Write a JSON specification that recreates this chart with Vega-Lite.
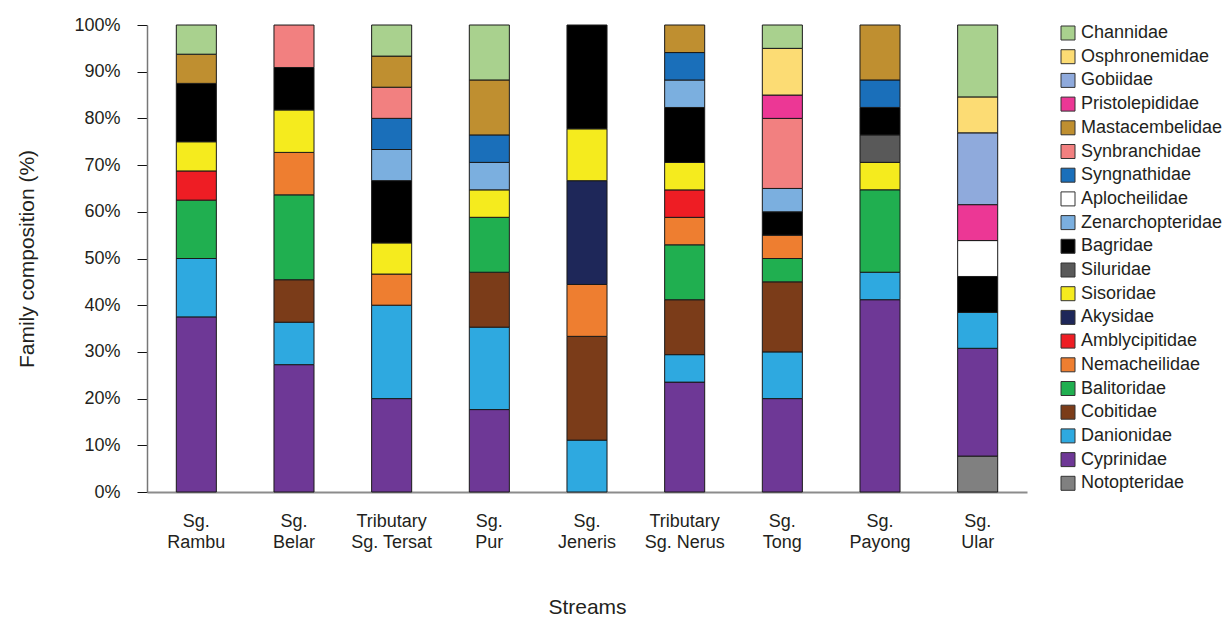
{
  "$schema": "https://vega.github.io/schema/vega-lite/v6.json",
  "width": 880,
  "height": 467,
  "autosize": "none",
  "padding": {"left": 147, "top": 25, "right": 200, "bottom": 130},
  "background": "white",
  "config": {
    "font": "Liberation Sans",
    "view": {"stroke": null},
    "axis": {"labelColor": "#231f20", "titleColor": "#231f20", "titleFontWeight": "normal"}
  },
  "datasets": {
    "families": [
      {"family": "Notopteridae", "rank": 1},
      {"family": "Cyprinidae", "rank": 2},
      {"family": "Danionidae", "rank": 3},
      {"family": "Cobitidae", "rank": 4},
      {"family": "Balitoridae", "rank": 5},
      {"family": "Nemacheilidae", "rank": 6},
      {"family": "Amblycipitidae", "rank": 7},
      {"family": "Akysidae", "rank": 8},
      {"family": "Sisoridae", "rank": 9},
      {"family": "Siluridae", "rank": 10},
      {"family": "Bagridae", "rank": 11},
      {"family": "Zenarchopteridae", "rank": 12},
      {"family": "Aplocheilidae", "rank": 13},
      {"family": "Syngnathidae", "rank": 14},
      {"family": "Synbranchidae", "rank": 15},
      {"family": "Mastacembelidae", "rank": 16},
      {"family": "Pristolepididae", "rank": 17},
      {"family": "Gobiidae", "rank": 18},
      {"family": "Osphronemidae", "rank": 19},
      {"family": "Channidae", "rank": 20}
    ],
    "composition": [
      {"stream": "Sg. Rambu", "family": "Cyprinidae", "pct": 37.5},
      {"stream": "Sg. Rambu", "family": "Danionidae", "pct": 12.5},
      {"stream": "Sg. Rambu", "family": "Balitoridae", "pct": 12.5},
      {"stream": "Sg. Rambu", "family": "Amblycipitidae", "pct": 6.25},
      {"stream": "Sg. Rambu", "family": "Sisoridae", "pct": 6.25},
      {"stream": "Sg. Rambu", "family": "Bagridae", "pct": 12.5},
      {"stream": "Sg. Rambu", "family": "Mastacembelidae", "pct": 6.25},
      {"stream": "Sg. Rambu", "family": "Channidae", "pct": 6.25},

      {"stream": "Sg. Belar", "family": "Cyprinidae", "pct": 27.27},
      {"stream": "Sg. Belar", "family": "Danionidae", "pct": 9.09},
      {"stream": "Sg. Belar", "family": "Cobitidae", "pct": 9.09},
      {"stream": "Sg. Belar", "family": "Balitoridae", "pct": 18.18},
      {"stream": "Sg. Belar", "family": "Nemacheilidae", "pct": 9.09},
      {"stream": "Sg. Belar", "family": "Sisoridae", "pct": 9.09},
      {"stream": "Sg. Belar", "family": "Bagridae", "pct": 9.09},
      {"stream": "Sg. Belar", "family": "Synbranchidae", "pct": 9.09},

      {"stream": "Tributary Sg. Tersat", "family": "Cyprinidae", "pct": 20},
      {"stream": "Tributary Sg. Tersat", "family": "Danionidae", "pct": 20},
      {"stream": "Tributary Sg. Tersat", "family": "Nemacheilidae", "pct": 6.67},
      {"stream": "Tributary Sg. Tersat", "family": "Sisoridae", "pct": 6.67},
      {"stream": "Tributary Sg. Tersat", "family": "Bagridae", "pct": 13.33},
      {"stream": "Tributary Sg. Tersat", "family": "Zenarchopteridae", "pct": 6.67},
      {"stream": "Tributary Sg. Tersat", "family": "Syngnathidae", "pct": 6.67},
      {"stream": "Tributary Sg. Tersat", "family": "Synbranchidae", "pct": 6.67},
      {"stream": "Tributary Sg. Tersat", "family": "Mastacembelidae", "pct": 6.66},
      {"stream": "Tributary Sg. Tersat", "family": "Channidae", "pct": 6.66},

      {"stream": "Sg. Pur", "family": "Cyprinidae", "pct": 17.65},
      {"stream": "Sg. Pur", "family": "Danionidae", "pct": 17.65},
      {"stream": "Sg. Pur", "family": "Cobitidae", "pct": 11.76},
      {"stream": "Sg. Pur", "family": "Balitoridae", "pct": 11.76},
      {"stream": "Sg. Pur", "family": "Sisoridae", "pct": 5.88},
      {"stream": "Sg. Pur", "family": "Zenarchopteridae", "pct": 5.88},
      {"stream": "Sg. Pur", "family": "Syngnathidae", "pct": 5.88},
      {"stream": "Sg. Pur", "family": "Mastacembelidae", "pct": 11.77},
      {"stream": "Sg. Pur", "family": "Channidae", "pct": 11.77},

      {"stream": "Sg. Jeneris", "family": "Danionidae", "pct": 11.11},
      {"stream": "Sg. Jeneris", "family": "Cobitidae", "pct": 22.22},
      {"stream": "Sg. Jeneris", "family": "Nemacheilidae", "pct": 11.11},
      {"stream": "Sg. Jeneris", "family": "Akysidae", "pct": 22.22},
      {"stream": "Sg. Jeneris", "family": "Sisoridae", "pct": 11.11},
      {"stream": "Sg. Jeneris", "family": "Bagridae", "pct": 22.23},

      {"stream": "Tributary Sg. Nerus", "family": "Cyprinidae", "pct": 23.53},
      {"stream": "Tributary Sg. Nerus", "family": "Danionidae", "pct": 5.88},
      {"stream": "Tributary Sg. Nerus", "family": "Cobitidae", "pct": 11.76},
      {"stream": "Tributary Sg. Nerus", "family": "Balitoridae", "pct": 11.76},
      {"stream": "Tributary Sg. Nerus", "family": "Nemacheilidae", "pct": 5.88},
      {"stream": "Tributary Sg. Nerus", "family": "Amblycipitidae", "pct": 5.88},
      {"stream": "Tributary Sg. Nerus", "family": "Sisoridae", "pct": 5.88},
      {"stream": "Tributary Sg. Nerus", "family": "Bagridae", "pct": 11.77},
      {"stream": "Tributary Sg. Nerus", "family": "Zenarchopteridae", "pct": 5.88},
      {"stream": "Tributary Sg. Nerus", "family": "Syngnathidae", "pct": 5.88},
      {"stream": "Tributary Sg. Nerus", "family": "Mastacembelidae", "pct": 5.9},

      {"stream": "Sg. Tong", "family": "Cyprinidae", "pct": 20},
      {"stream": "Sg. Tong", "family": "Danionidae", "pct": 10},
      {"stream": "Sg. Tong", "family": "Cobitidae", "pct": 15},
      {"stream": "Sg. Tong", "family": "Balitoridae", "pct": 5},
      {"stream": "Sg. Tong", "family": "Nemacheilidae", "pct": 5},
      {"stream": "Sg. Tong", "family": "Bagridae", "pct": 5},
      {"stream": "Sg. Tong", "family": "Zenarchopteridae", "pct": 5},
      {"stream": "Sg. Tong", "family": "Synbranchidae", "pct": 15},
      {"stream": "Sg. Tong", "family": "Pristolepididae", "pct": 5},
      {"stream": "Sg. Tong", "family": "Osphronemidae", "pct": 10},
      {"stream": "Sg. Tong", "family": "Channidae", "pct": 5},

      {"stream": "Sg. Payong", "family": "Cyprinidae", "pct": 41.18},
      {"stream": "Sg. Payong", "family": "Danionidae", "pct": 5.88},
      {"stream": "Sg. Payong", "family": "Balitoridae", "pct": 17.65},
      {"stream": "Sg. Payong", "family": "Sisoridae", "pct": 5.88},
      {"stream": "Sg. Payong", "family": "Siluridae", "pct": 5.88},
      {"stream": "Sg. Payong", "family": "Bagridae", "pct": 5.88},
      {"stream": "Sg. Payong", "family": "Syngnathidae", "pct": 5.88},
      {"stream": "Sg. Payong", "family": "Mastacembelidae", "pct": 11.77},

      {"stream": "Sg. Ular", "family": "Notopteridae", "pct": 7.69},
      {"stream": "Sg. Ular", "family": "Cyprinidae", "pct": 23.08},
      {"stream": "Sg. Ular", "family": "Danionidae", "pct": 7.69},
      {"stream": "Sg. Ular", "family": "Bagridae", "pct": 7.69},
      {"stream": "Sg. Ular", "family": "Aplocheilidae", "pct": 7.69},
      {"stream": "Sg. Ular", "family": "Pristolepididae", "pct": 7.69},
      {"stream": "Sg. Ular", "family": "Gobiidae", "pct": 15.38},
      {"stream": "Sg. Ular", "family": "Osphronemidae", "pct": 7.69},
      {"stream": "Sg. Ular", "family": "Channidae", "pct": 15.4}
    ]
  },
  "data": {"name": "composition"},
  "transform": [
    {"lookup": "family", "from": {"data": {"name": "families"}, "key": "family", "fields": ["rank"]}}
  ],
  "mark": {"type": "bar", "stroke": "#1a1a1a", "strokeWidth": 1},
  "encoding": {
    "x": {
      "field": "stream",
      "type": "nominal",
      "sort": null,
      "scale": {"paddingInner": 0.59, "paddingOuter": 0.3},
      "axis": {
        "title": "Streams",
        "titleFontSize": 21,
        "titlePadding": 45,
        "labelAngle": 0,
        "labelFontSize": 18,
        "labelLineHeight": 21,
        "labelPadding": 20,
        "labelExpr": "indexof(datum.value, 'Tributary') == 0 ? ['Tributary', substring(datum.value, 10)] : split(datum.value, ' ')",
        "ticks": false,
        "domainColor": "#8c8c8c",
        "domainWidth": 2
      }
    },
    "y": {
      "field": "pct",
      "type": "quantitative",
      "stack": "zero",
      "scale": {"domain": [0, 100], "nice": false},
      "axis": {
        "title": "Family composition (%)",
        "titleFontSize": 21,
        "titlePadding": 36,
        "values": [0, 10, 20, 30, 40, 50, 60, 70, 80, 90, 100],
        "labelExpr": "datum.value + '%'",
        "labelFontSize": 18,
        "labelPadding": 17,
        "tickSize": 10,
        "tickColor": "#111",
        "domainColor": "#777",
        "domainWidth": 1.5,
        "grid": false
      }
    },
    "order": {"field": "rank", "type": "quantitative", "sort": "ascending"},
    "color": {
      "field": "family",
      "type": "nominal",
      "scale": {
        "domain": ["Channidae", "Osphronemidae", "Gobiidae", "Pristolepididae", "Mastacembelidae", "Synbranchidae", "Syngnathidae", "Aplocheilidae", "Zenarchopteridae", "Bagridae", "Siluridae", "Sisoridae", "Akysidae", "Amblycipitidae", "Nemacheilidae", "Balitoridae", "Cobitidae", "Danionidae", "Cyprinidae", "Notopteridae"],
        "range": ["#a9d18e", "#fcdc74", "#8faadc", "#ec3795", "#bf8f30", "#f28080", "#1a6fba", "#ffffff", "#7bafdf", "#000000", "#595959", "#f5eb1e", "#1e2759", "#ee1d24", "#ee7e30", "#20af50", "#7b3c19", "#2ea9e0", "#6e3896", "#808080"]
      },
      "legend": {
        "title": null,
        "orient": "none",
        "legendX": 912,
        "legendY": -1,
        "symbolType": "square",
        "symbolSize": 196,
        "symbolStrokeColor": "#333",
        "symbolStrokeWidth": 1,
        "labelFontSize": 18,
        "labelColor": "#231f20",
        "labelOffset": 4,
        "rowPadding": 5.7,
        "labelLimit": 200
      }
    }
  }
}
